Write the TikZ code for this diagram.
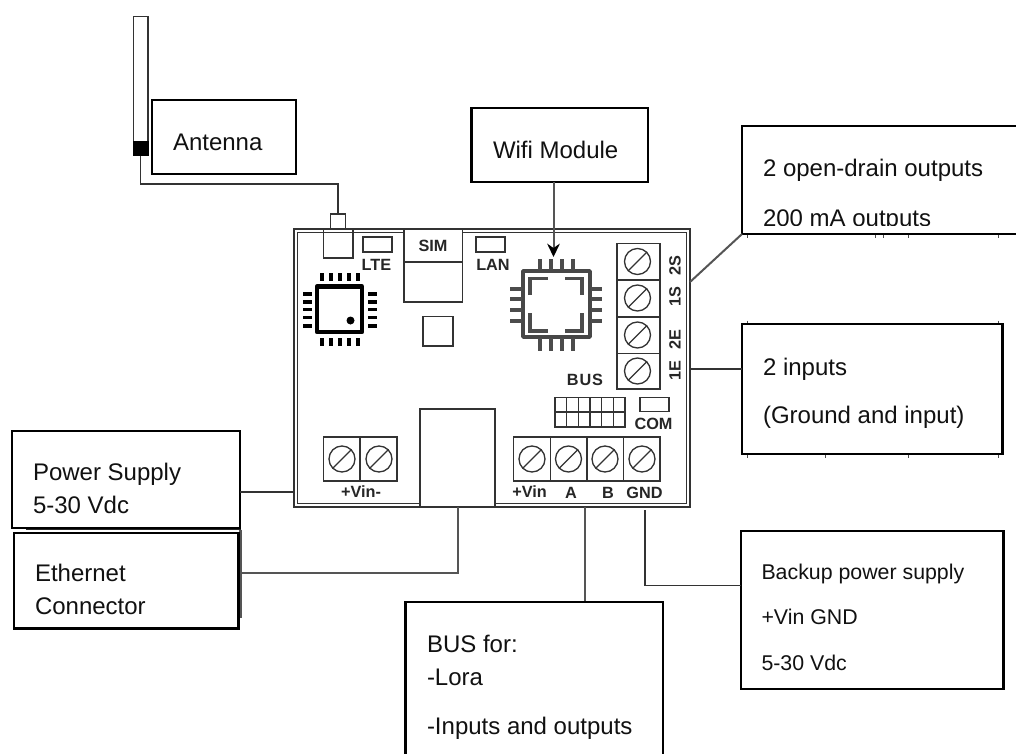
\documentclass[tikz,border=0pt]{standalone}
\usepackage{fontspec}
\setmainfont{Liberation Sans}
\usetikzlibrary{arrows.meta}
\definecolor{wire}{HTML}{555555}
\definecolor{part}{HTML}{333333}
\definecolor{ink}{HTML}{111111}
\tikzset{
  boxnode/.style={draw=black,line width=1.6pt,fill=white,inner sep=0pt,outer sep=0pt},
  wireline/.style={draw=wire,line width=1.5pt},
  darkwire/.style={draw=part,line width=1.1pt},
  partline/.style={draw=part,line width=1pt},
  screwring/.style={draw=part,line width=1pt},
  chipbody/.style={draw=black!72,line width=2.7pt,line cap=round,line join=round},
  chippin/.style={draw=black!70,line width=2.3pt},
  mcupin/.style={draw=black,line width=2.8pt},
  label/.style={anchor=west,yshift=-2.8pt,inner sep=0pt,outer sep=0pt,text=ink,text height=.72em,text depth=0pt,font=\fontsize{18pt}{20pt}\selectfont},
  smalllabel/.style={label,font=\fontsize{16pt}{18pt}\selectfont},
  silk/.style={inner sep=0pt,outer sep=0pt,text=black!85,font=\fontsize{12.2pt}{13pt}\selectfont\bfseries},
}
\newcommand{\pbox}[6][]{\node[boxnode,#1,minimum width={.75*(#5-#3)*1pt},minimum height={.75*(#6-#4)*1pt}] (#2) at ({(#3+#5)/2},{(#4+#6)/2}) {};}
\newcommand{\screw}[2]{\draw[screwring] (#1,#2) circle[radius=13];\draw[screwring] ({#1-9.5},{#2+9.5}) -- ({#1+9.5},{#2-9.5});}
\begin{document}
\begin{tikzpicture}[x=.75pt,y=-.75pt]
\useasboundingbox[fill=white] (0,0) rectangle (1016,753);

% antenna
\draw[partline,fill=white] (133.5,16.5) rectangle (148,155.5);
\draw[draw=black,fill=black] (133.5,141) rectangle (148,155.5);
\coordinate (antfoot) at (140.5,155.5);
\coordinate (antbend1) at (140.5,184);
\coordinate (antbend2) at (338,184);
\node[draw=part,line width=1pt,fill=white,inner sep=0pt,outer sep=0pt,minimum width={.75*15*1pt},minimum height={.75*15*1pt}] (antplug) at (338,221.5) {};
\draw[darkwire] (antfoot) -- (antbend1) -- (antbend2) -- (antplug.north);
\pbox{antennabox}{152}{100}{296}{174}
\node[label] (antennatext) at (173,142) {Antenna};

% board
\draw[partline] (294,229) rectangle (690,507);
\draw[partline] (297.5,232.5) rectangle (686.5,503.5);

% left part of the board
\draw[partline] (323.5,229) rectangle (353,258);
\draw[partline] (363,237) rectangle (392,252);
\node[silk] (ltetext) at (376.5,264.5) {LTE};
\draw[partline,fill=white] (404,229) rectangle (462.5,302);
\draw[partline] (404,262) -- (462.5,262);
\node[silk] (simtext) at (433,245.5) {SIM};
\draw[partline] (423,316.5) rectangle (453,346);
\draw[partline] (476,237) rectangle (505,252);
\node[silk] (lantext) at (493,264.5) {LAN};

% MCU
\draw[draw=black,line width=3.2pt,line join=round] (317,286.5) rectangle (362,332);
\fill[black] (350.5,320.5) circle[radius=4];
\foreach \p in {322,331,340,349,358}{
  \draw[mcupin] (\p,273) -- (\p,281);
  \draw[mcupin] (\p,338) -- (\p,346);
}
\foreach \p in {294,302,309.5,317.5,326}{
  \draw[mcupin] (303,\p) -- (312,\p);
  \draw[mcupin] (368,\p) -- (376.5,\p);
}

% wifi chip
\draw[chipbody] (523,271) rectangle (590,337);
\foreach \p in {540,551,562,573}{
  \draw[chippin] (\p,259) -- (\p,270);
  \draw[chippin] (\p,338) -- (\p,351);
}
\foreach \p in {289,299,310,321}{
  \draw[chippin] (510,\p) -- (522,\p);
  \draw[chippin] (591,\p) -- (602,\p);
}
\draw[chippin] (530,295) -- (530,278.5) -- (548,278.5);
\draw[chippin] (565,278.5) -- (582,278.5) -- (582,295);
\draw[chippin] (530,313) -- (530,331) -- (548,331);
\draw[chippin] (565,331) -- (582,331) -- (582,313);

% right terminal block
\draw[partline] (617,243.5) rectangle (660,389);
\draw[partline] (617,280) -- (660,280);
\draw[partline] (617,317) -- (660,317);
\draw[partline] (617,353.5) -- (660,353.5);
\screw{637.5}{261.5}\screw{637.5}{298}\screw{637.5}{335}\screw{637.5}{371}
\node[silk,rotate=90] (twos) at (675,266) {2S};
\node[silk,rotate=90] (ones) at (675,297) {1S};
\node[silk,rotate=90] (twoe) at (675,340) {2E};
\node[silk,rotate=90] (onee) at (675,371) {1E};

% bus header
\node[silk] (bustext) at (585,380) {B\kern.7pt U\kern.7pt S};
\draw[partline] (555,397.5) rectangle (625,427);
\draw[partline] (555,412) -- (625,412);
\foreach \p in {566.7,578.3,590,601.7,613.3}{\draw[partline] (\p,397.5) -- (\p,427);}
\draw[partline] (640,397.5) rectangle (669,411.5);
\node[silk] (comtext) at (653.5,423.5) {COM};

% power terminals
\draw[partline] (323.5,437) rectangle (397,481);
\draw[partline] (360,437) -- (360,481);
\screw{342}{459}\screw{379}{459}
\node[silk] (vinminus) at (361,492) {+Vin-};

% bottom terminals
\draw[partline] (513.5,437) rectangle (660,481);
\foreach \p in {550.5,587,623.5}{\draw[partline] (\p,437) -- (\p,481);}
\screw{532}{459}\screw{568.5}{459}\screw{605}{459}\screw{642}{459}
\node[silk] (vinplus) at (529.5,491.5) {+Vin};
\node[silk] (atext) at (571,493) {A};
\node[silk] (btext) at (608,493) {B};
\node[silk] (gndtext) at (644.5,493) {GND};

% ethernet socket
\node[draw=part,line width=1.1pt,fill=white,inner sep=0pt,outer sep=0pt,minimum width={.75*75*1pt},minimum height={.75*98*1pt}] (socket) at (457.5,458) {};

% callouts
\pbox{wifibox}{471.5}{108}{648}{182}
\node[label] (wifitext) at (493,150) {Wifi Module};
\coordinate (wifitip) at (553.5,257);
\draw[wireline,-{Stealth[length=10pt,width=9.5pt,color=black]}] (wifibox.south -| wifitip) -- (wifitip);

\pbox{outbox}{742}{126}{1020}{234}
\node[label] (outtext) at (763,168) {2 open-drain outputs};
\node[label] (mAtext) at (763,218) {200 mA outputs};
\fill[white] (743,226) rectangle (1016,233);
\foreach \p in {747,875,883,908,998}{\draw[black!70,line width=.7pt] (\p,235) -- (\p,238);}
\coordinate (outpin) at (690,282);
\draw[wireline] (outbox.south west) -- (outpin);

\pbox{inbox}{742}{324}{1002.5}{454}
\node[label] (intext) at (763,367) {2 inputs};
\node[label] (groundtext) at (763,415) {(Ground and input)};
\foreach \p in {747,998}{\draw[black!70,line width=.7pt] (\p,320.5) -- (\p,323);}
\foreach \p in {747,825,908,998}{\draw[black!70,line width=.7pt] (\p,455) -- (\p,458);}
\coordinate (inpin) at (690,369);
\draw[darkwire] (inpin) -- (inbox.west |- inpin);

% left callouts
\draw[draw=black!85,line width=1.4pt] (26,529.5) -- (240.5,529.5);
\draw[draw=wire,line width=1.6pt] (240.5,529.5) -- (240.5,618);
\pbox{powerbox}{12}{431}{240}{528}
\node[label] (powertext) at (33,472) {Power Supply};
\node[label] (powervolt) at (33,505) {5-30 Vdc};
\coordinate (powerpin) at (294,492);
\draw[darkwire] (powerbox.east |- powerpin) -- (powerpin);
\pbox{ethbox}{14}{533}{238.5}{628.5}
\node[label] (ethtext) at (35,573) {Ethernet};
\node[label] (connectortext) at (35,606) {Connector};
\coordinate (ethbend) at (457.5,572.5);
\draw[wireline] (socket.south) -- (ethbend) -- (240,572.5);

% bottom callouts
\coordinate (buspin) at (585,507);
\draw[wireline] (buspin) -- (585,602);
\coordinate (bustl) at (405.5,602);
\coordinate (bustr) at (663,602);
\draw[draw=black,line width=1.6pt] (405.5,756) -- (bustl) -- (bustr) -- (663,756);
\node[label] (busfor) at (427,644) {BUS for:};
\node[label] (lora) at (427,677) {-Lora};
\node[label] (ioutputs) at (427,726) {-Inputs and outputs};

\pbox{backupbox}{741}{531}{1003.5}{689}
\node[smalllabel] (backuptext) at (761.5,571) {Backup power supply};
\node[smalllabel] (vingnd) at (761.5,616) {+Vin GND};
\node[smalllabel] (backupvolt) at (761.5,662) {5-30 Vdc};
\coordinate (gndpin) at (645,510);
\coordinate (gndbend) at (645,585.5);
\draw[darkwire] (gndpin) -- (gndbend) -- (backupbox.west |- gndbend);
\end{tikzpicture}
\end{document}
